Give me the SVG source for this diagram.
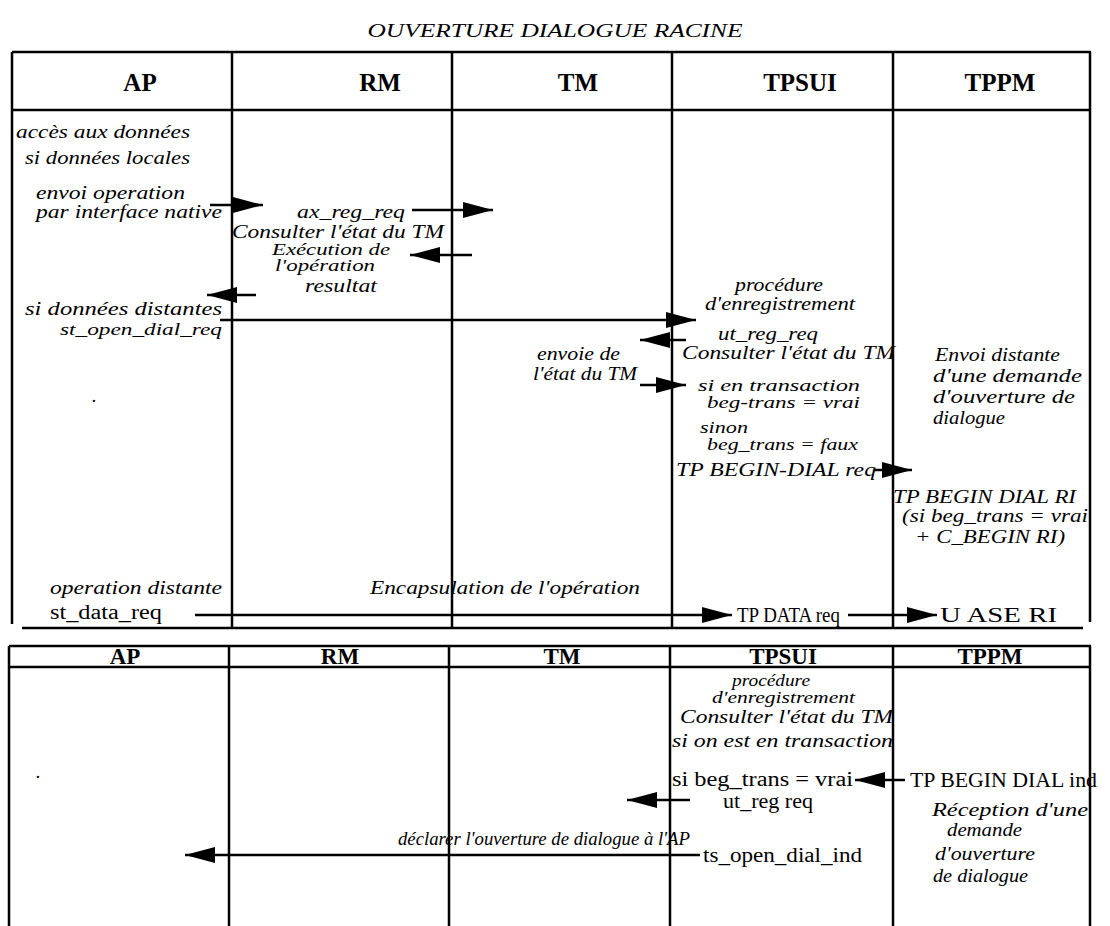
<svg xmlns="http://www.w3.org/2000/svg" width="1110" height="926" viewBox="0 0 1110 926">
<defs>
<style>
.bg{fill:#fff}
.ln{stroke:#000;stroke-width:2.5;fill:none}
.arr{stroke:#000;stroke-width:2.5;fill:none;marker-end:url(#ah)}
.hd{font-family:"Liberation Serif",serif;font-weight:bold;font-size:25px;fill:#000}
.hd2{font-family:"Liberation Serif",serif;font-weight:bold;font-size:23px;fill:#000}
.it{font-family:"Liberation Serif",serif;font-style:italic;font-size:19px;fill:#000}
.sm{font-size:16px}
.rg{font-family:"Liberation Serif",serif;font-size:20px;fill:#000}
.title{font-family:"Liberation Serif",serif;font-style:italic;font-size:19px;fill:#000}
</style>
<marker id="ah" viewBox="0 0 30 16" refX="30" refY="8" markerWidth="30" markerHeight="16" markerUnits="userSpaceOnUse" orient="auto">
<path d="M0,0 L30,8 L0,16 Z" fill="#000"/>
</marker>
</defs>
<rect class="bg" x="0" y="0" width="1110" height="926"/>
<text class="title" x="555" y="37" text-anchor="middle" textLength="375" lengthAdjust="spacingAndGlyphs">OUVERTURE DIALOGUE RACINE</text>

<g id="table1">
<line class="ln" x1="12" y1="52" x2="1091" y2="52"/>
<line class="ln" x1="12" y1="52" x2="12" y2="624"/>
<line class="ln" x1="1090" y1="52" x2="1090" y2="622"/>
<line class="ln" x1="12" y1="110" x2="1090" y2="110"/>
<line class="ln" x1="22" y1="628" x2="1083" y2="628"/>
<line class="ln" x1="232" y1="52" x2="232" y2="628"/>
<line class="ln" x1="452" y1="52" x2="452" y2="628"/>
<line class="ln" x1="672" y1="52" x2="672" y2="628"/>
<line class="ln" x1="893" y1="52" x2="893" y2="628"/>
</g>
<g id="hdr1">
<text class="hd" x="140" y="91" text-anchor="middle">AP</text>
<text class="hd" x="380" y="91" text-anchor="middle">RM</text>
<text class="hd" x="578" y="91" text-anchor="middle">TM</text>
<text class="hd" x="800" y="91" text-anchor="middle">TPSUI</text>
<text class="hd" x="1000" y="91" text-anchor="middle">TPPM</text>
</g>

<g id="table2">
<line class="ln" x1="9" y1="646" x2="1091" y2="646"/>
<line class="ln" x1="9" y1="646" x2="9" y2="926"/>
<line class="ln" x1="1090" y1="646" x2="1090" y2="926"/>
<line class="ln" x1="9" y1="667" x2="1090" y2="667"/>
<line class="ln" x1="229" y1="646" x2="229" y2="926"/>
<line class="ln" x1="449" y1="646" x2="449" y2="926"/>
<line class="ln" x1="670" y1="646" x2="670" y2="926"/>
<line class="ln" x1="893" y1="646" x2="893" y2="926"/>
</g>
<g id="hdr2">
<text class="hd2" x="125" y="664" text-anchor="middle">AP</text>
<text class="hd2" x="340" y="664" text-anchor="middle">RM</text>
<text class="hd2" x="562" y="664" text-anchor="middle">TM</text>
<text class="hd2" x="783" y="664" text-anchor="middle">TPSUI</text>
<text class="hd2" x="990" y="664" text-anchor="middle">TPPM</text>
</g>

<g id="connectors">
<line class="arr" x1="210" y1="205" x2="263" y2="205"/>
<line class="arr" x1="412" y1="210" x2="493" y2="210"/>
<line class="arr" x1="472" y1="255" x2="410" y2="255"/>
<line class="arr" x1="256" y1="295" x2="207" y2="295"/>
<line class="arr" x1="220" y1="320" x2="696" y2="320"/>
<line class="arr" x1="686" y1="340" x2="640" y2="340"/>
<line class="arr" x1="640" y1="385" x2="686" y2="385"/>
<line class="arr" x1="874" y1="470" x2="912" y2="470"/>
<line class="arr" x1="195" y1="615" x2="732" y2="615"/>
<line class="arr" x1="848" y1="615" x2="937" y2="615"/>
<line class="arr" x1="905" y1="780" x2="855" y2="780"/>
<line class="arr" x1="690" y1="800" x2="627" y2="800"/>
<line class="arr" x1="700" y1="855" x2="185" y2="855"/>
</g>

<g id="labels1">
<text class="it" x="16" y="138" textLength="174" lengthAdjust="spacingAndGlyphs">accès aux données</text>
<text class="it" x="25" y="164" textLength="165" lengthAdjust="spacingAndGlyphs">si données locales</text>
<text class="it" x="36" y="199" textLength="149" lengthAdjust="spacingAndGlyphs">envoi operation</text>
<text class="it" x="36" y="218" textLength="186" lengthAdjust="spacingAndGlyphs">par interface native</text>
<text class="it" x="297" y="218" textLength="108" lengthAdjust="spacingAndGlyphs">ax_reg_req</text>
<text class="it" x="232" y="238" textLength="212" lengthAdjust="spacingAndGlyphs">Consulter l'état du TM</text>
<text class="it sm" x="272" y="255" textLength="118" lengthAdjust="spacingAndGlyphs">Exécution de</text>
<text class="it sm" x="275" y="271" textLength="100" lengthAdjust="spacingAndGlyphs">l'opération</text>
<text class="it" x="305" y="292" textLength="72" lengthAdjust="spacingAndGlyphs">resultat</text>
<text class="it" x="25" y="315" textLength="197" lengthAdjust="spacingAndGlyphs">si données distantes</text>
<text class="it sm" x="60" y="335" textLength="162" lengthAdjust="spacingAndGlyphs">st_open_dial_req</text>
<text class="it" x="735" y="291" textLength="88" lengthAdjust="spacingAndGlyphs">procédure</text>
<text class="it" x="705" y="310" textLength="150" lengthAdjust="spacingAndGlyphs">d'enregistrement</text>
<text class="it" x="718" y="340" textLength="100" lengthAdjust="spacingAndGlyphs">ut_reg_req</text>
<text class="it" x="682" y="359" textLength="213" lengthAdjust="spacingAndGlyphs">Consulter l'état du TM</text>
<text class="it" x="537" y="360" textLength="83" lengthAdjust="spacingAndGlyphs">envoie de</text>
<text class="it" x="533" y="380" textLength="104" lengthAdjust="spacingAndGlyphs">l'état du TM</text>
<text class="it sm" x="698" y="391" textLength="162" lengthAdjust="spacingAndGlyphs">si en transaction</text>
<text class="it sm" x="707" y="408" textLength="153" lengthAdjust="spacingAndGlyphs">beg-trans = vrai</text>
<text class="it sm" x="700" y="433" textLength="48" lengthAdjust="spacingAndGlyphs">sinon</text>
<text class="it sm" x="707" y="450" textLength="151" lengthAdjust="spacingAndGlyphs">beg_trans = faux</text>
<text class="it" x="676" y="476" textLength="200" lengthAdjust="spacingAndGlyphs">TP BEGIN-DIAL req</text>
<text class="it" x="935" y="361" textLength="125" lengthAdjust="spacingAndGlyphs">Envoi distante</text>
<text class="it" x="933" y="382" textLength="149" lengthAdjust="spacingAndGlyphs">d'une demande</text>
<text class="it" x="933" y="403" textLength="142" lengthAdjust="spacingAndGlyphs">d'ouverture de</text>
<text class="it" x="933" y="424" textLength="72" lengthAdjust="spacingAndGlyphs">dialogue</text>
<text class="it" x="893" y="503" textLength="183" lengthAdjust="spacingAndGlyphs">TP BEGIN DIAL RI</text>
<text class="it" x="902" y="522" textLength="186" lengthAdjust="spacingAndGlyphs">(si beg_trans = vrai</text>
<text class="it" x="915" y="543" textLength="150" lengthAdjust="spacingAndGlyphs">+ C_BEGIN RI)</text>
<text class="it" x="92" y="402">.</text>
<text class="it" x="50" y="594" textLength="172" lengthAdjust="spacingAndGlyphs">operation distante</text>
<text class="rg" x="50" y="619" textLength="112" lengthAdjust="spacingAndGlyphs">st_data_req</text>
<text class="it" x="370" y="594" textLength="270" lengthAdjust="spacingAndGlyphs">Encapsulation de l'opération</text>
<text class="rg" x="737" y="622" textLength="103" lengthAdjust="spacingAndGlyphs">TP DATA req</text>
<text class="rg" x="940" y="622" textLength="117" lengthAdjust="spacingAndGlyphs">U ASE RI</text>
</g>

<g id="labels2">
<text class="it sm" x="732" y="686" textLength="78" lengthAdjust="spacingAndGlyphs">procédure</text>
<text class="it sm" x="712" y="703" textLength="143" lengthAdjust="spacingAndGlyphs">d'enregistrement</text>
<text class="it" x="680" y="723" textLength="213" lengthAdjust="spacingAndGlyphs">Consulter l'état du TM</text>
<text class="it" x="672" y="747" textLength="221" lengthAdjust="spacingAndGlyphs">si on est en transaction</text>
<text class="rg" x="672" y="786" textLength="181" lengthAdjust="spacingAndGlyphs">si beg_trans = vrai</text>
<text class="rg" x="910" y="787" textLength="187" lengthAdjust="spacingAndGlyphs">TP BEGIN DIAL ind</text>
<text class="rg" x="723" y="808" textLength="90" lengthAdjust="spacingAndGlyphs">ut_reg req</text>
<text class="it" x="932" y="816" textLength="156" lengthAdjust="spacingAndGlyphs">Réception d'une</text>
<text class="it" x="947" y="836" textLength="75" lengthAdjust="spacingAndGlyphs">demande</text>
<text class="it" x="935" y="860" textLength="100" lengthAdjust="spacingAndGlyphs">d'ouverture</text>
<text class="it" x="933" y="882" textLength="95" lengthAdjust="spacingAndGlyphs">de dialogue</text>
<text class="it" x="398" y="845" textLength="292" lengthAdjust="spacingAndGlyphs">déclarer l'ouverture de dialogue à l'AP</text>
<text class="rg" x="703" y="862" textLength="159" lengthAdjust="spacingAndGlyphs">ts_open_dial_ind</text>
<text class="it" x="36" y="778">.</text>
</g>
</svg>
